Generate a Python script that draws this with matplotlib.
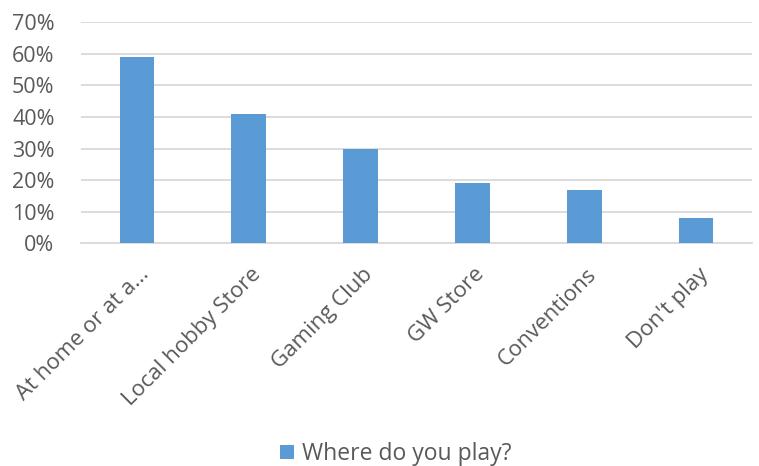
import matplotlib
matplotlib.use("Agg")
import matplotlib.pyplot as plt
import matplotlib.transforms as mtransforms
from matplotlib.ticker import PercentFormatter, MultipleLocator

# --- data ---
categories = ["At home or at a...", "Local hobby Store", "Gaming Club",
              "GW Store", "Conventions", "Don't play"]
shares = [0.59, 0.41, 0.30, 0.19, 0.17, 0.08]
series_name = "Where do you play?"

BAR_COLOR = "#5b9bd5"
GRID_COLOR = "#d9d9d9"
TEXT_COLOR = "#595959"
FONT = ["Open Sans", "DejaVu Sans"]

plt.rcParams["font.family"] = FONT

fig = plt.figure(figsize=(7.59, 4.66), dpi=100)
ax = fig.add_axes([81 / 759, 1 - 243.5 / 466, (752 - 81) / 759, (243.5 - 22) / 466])

x = range(len(categories))
ax.bar(x, shares, width=0.31, color=BAR_COLOR, zorder=3, label=series_name)

ax.set_xlim(-0.5, len(categories) - 0.5)
ax.set_ylim(0, 0.70)
ax.yaxis.set_major_locator(MultipleLocator(0.10))
ax.yaxis.set_major_formatter(PercentFormatter(1.0, decimals=0))
ax.grid(axis="y", color=GRID_COLOR, linewidth=1.3, zorder=0)

for side in ["top", "right", "left"]:
    ax.spines[side].set_visible(False)
ax.spines["bottom"].set_color(GRID_COLOR)
ax.spines["bottom"].set_linewidth(1.3)

ax.tick_params(axis="y", length=0, pad=19, labelsize=15.5, labelcolor=TEXT_COLOR)
ax.tick_params(axis="x", length=0, pad=20, labelsize=16, labelcolor=TEXT_COLOR)

ax.set_xticks(list(x))
ax.set_xticklabels(categories, rotation=45, ha="right", va="center",
                   rotation_mode="anchor")
shift = mtransforms.ScaledTranslation(0.09, 0, fig.dpi_scale_trans)
for lbl in ax.get_xticklabels():
    lbl.set_transform(lbl.get_transform() + shift)

fig.legend(loc="center", bbox_to_anchor=(396 / 759, 1 - 454 / 466),
           frameon=False, fontsize=16.5, labelcolor=TEXT_COLOR,
           handlelength=0.62, handleheight=0.62, handletextpad=0.35)

fig.savefig("out.png", dpi=100, facecolor="white")
